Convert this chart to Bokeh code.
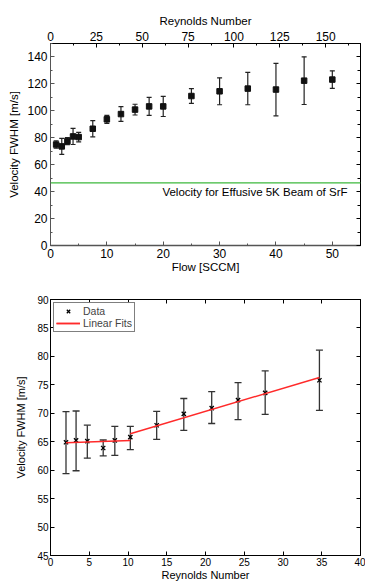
from bokeh.plotting import figure
from bokeh.models import (ColumnDataSource, Whisker, TeeHead, LinearAxis, Range1d,
                          SingleIntervalTicker, Span, Label, Legend, LegendItem,
                          CustomJSTickFormatter)
from bokeh.layouts import column
from bokeh.embed import file_html
from bokeh.resources import INLINE

FONT = "Liberation Sans"

# ---------------- data: top panel ----------------
flow = [1, 2, 3, 4, 5, 7.5, 10, 12.5, 15, 17.5, 20, 25, 30, 35, 40, 45, 50]
velocity = [75.0, 73.6, 77.5, 81.0, 80.5, 86.7, 93.7, 97.6, 100.9, 103.3, 103.3,
            111.0, 114.5, 116.5, 115.8, 122.4, 123.2]
velocity_err = [2.8, 6.0, 2.6, 6.0, 3.5, 6.0, 3.0, 5.5, 4.0, 6.7, 7.5,
                5.5, 10.0, 12.0, 19.5, 17.7, 6.5]
effusive_velocity = 46.5
effusive_text = "Velocity for Effusive 5K Beam of SrF"
reynolds_max_top = 169

# ---------------- data: bottom panel ----------------
reynolds = [2.0, 3.3, 4.75, 6.8, 8.3, 10.3, 13.7, 17.2, 20.8, 24.2, 27.7, 34.7]
fwhm = [64.9, 65.25, 65.1, 63.9, 65.25, 65.8, 67.9, 69.9, 70.9, 72.3, 73.6, 75.8]
fwhm_lo = [59.4, 59.9, 62.1, 62.5, 62.6, 63.6, 65.4, 67.0, 68.2, 68.9, 69.8, 70.5]
fwhm_hi = [70.3, 70.4, 67.9, 65.3, 67.7, 67.7, 70.35, 72.6, 73.8, 75.4, 77.45, 81.1]
fit1_x = [2.0, 10.3]
fit1_y = [64.8, 65.2]
fit2_x = [10.3, 34.7]
fit2_y = [66.4, 76.3]

BLANK = CustomJSTickFormatter(code="return '';")


def style_axis(ax, tick_size, label_size, line_color="black"):
    ax.axis_line_color = line_color
    ax.major_tick_line_color = line_color
    ax.minor_tick_line_color = line_color
    ax.major_tick_in = 4
    ax.major_tick_out = 0
    ax.minor_tick_in = 2
    ax.minor_tick_out = 0
    ax.major_label_text_font = FONT
    ax.major_label_text_font_size = tick_size
    ax.major_label_text_color = "black"
    ax.axis_label_text_font = FONT
    ax.axis_label_text_font_size = label_size
    ax.axis_label_text_font_style = "normal"
    ax.axis_label_text_color = "black"


# ================= top figure =================
p1 = figure(width=365, height=285, x_range=Range1d(0, 55), y_range=Range1d(0, 150),
            output_backend="svg", toolbar_location=None,
            min_border_left=50, min_border_right=5, min_border_top=43, min_border_bottom=40)
p1.xgrid.grid_line_color = None
p1.ygrid.grid_line_color = None
p1.outline_line_color = "black"
p1.extra_x_ranges = {"re": Range1d(0, reynolds_max_top)}

p1.xaxis[0].ticker = SingleIntervalTicker(interval=10, num_minor_ticks=2)
p1.xaxis[0].axis_label = "Flow [SCCM]"
p1.yaxis[0].ticker = SingleIntervalTicker(interval=20, num_minor_ticks=2)
p1.yaxis[0].axis_label = "Velocity FWHM [m/s]"
style_axis(p1.xaxis[0], "12px", "11.5px", "#555555")
style_axis(p1.yaxis[0], "12px", "11.5px", "#555555")
p1.xaxis[0].axis_line_width = 1.5
p1.xaxis[0].major_label_standoff = 3
p1.xaxis[0].axis_label_standoff = 0
p1.yaxis[0].major_label_standoff = 3
p1.yaxis[0].axis_label_standoff = 4

top_ax = LinearAxis(x_range_name="re", axis_label="Reynolds Number",
                    ticker=SingleIntervalTicker(interval=25, num_minor_ticks=2))
style_axis(top_ax, "12px", "11.5px")
top_ax.major_label_standoff = 3
top_ax.axis_label_standoff = 2
p1.add_layout(top_ax, "above")

right_ax = LinearAxis(ticker=SingleIntervalTicker(interval=20, num_minor_ticks=2),
                      formatter=BLANK)
style_axis(right_ax, "1px", "1px")
right_ax.major_label_standoff = 0
right_ax.minor_tick_in = 3
p1.add_layout(right_ax, "right")

src1 = ColumnDataSource(dict(
    x=flow, y=velocity,
    lo=[v - e for v, e in zip(velocity, velocity_err)],
    hi=[v + e for v, e in zip(velocity, velocity_err)],
))
p1.add_layout(Whisker(base="x", lower="lo", upper="hi", source=src1,
                      line_color="#222222", line_width=1.2,
                      lower_head=TeeHead(size=5, line_color="#222222", line_width=1.2),
                      upper_head=TeeHead(size=5, line_color="#222222", line_width=1.2)))
p1.scatter("x", "y", source=src1, marker="square", size=5.5, color="#111111")

p1.add_layout(Span(location=effusive_velocity, dimension="width",
                   line_color="#3cb83c", line_width=1.3))
p1.add_layout(Label(x=52.7, y=40, text=effusive_text, text_align="right",
                    text_baseline="middle", text_font=FONT, text_font_size="11.5px",
                    text_color="black"))

# ================= bottom figure =================
p2 = figure(width=365, height=298, x_range=Range1d(0, 40), y_range=Range1d(45, 90),
            output_backend="svg", toolbar_location=None,
            min_border_left=48, min_border_right=5, min_border_top=14, min_border_bottom=28)
p2.xgrid.grid_line_color = None
p2.ygrid.grid_line_color = None
p2.outline_line_color = "black"

p2.xaxis[0].ticker = SingleIntervalTicker(interval=5, num_minor_ticks=0)
p2.xaxis[0].axis_label = "Reynolds Number"
p2.yaxis[0].ticker = SingleIntervalTicker(interval=5, num_minor_ticks=0)
p2.yaxis[0].axis_label = "Velocity FWHM [m/s]"
style_axis(p2.xaxis[0], "10px", "11px")
style_axis(p2.yaxis[0], "10px", "11px")
for ax in (p2.xaxis[0], p2.yaxis[0]):
    ax.minor_tick_line_color = None
    ax.major_label_standoff = 2
p2.xaxis[0].axis_label_standoff = 0
p2.yaxis[0].axis_label_standoff = 7

for loc in ("right", "above"):
    a = LinearAxis(ticker=SingleIntervalTicker(interval=5, num_minor_ticks=0),
                   formatter=BLANK)
    style_axis(a, "1px", "1px")
    a.minor_tick_line_color = None
    a.major_label_standoff = 0
    p2.add_layout(a, loc)

src2 = ColumnDataSource(dict(x=reynolds, y=fwhm, lo=fwhm_lo, hi=fwhm_hi))
p2.add_layout(Whisker(base="x", lower="lo", upper="hi", source=src2,
                      line_color="#333333", line_width=1.3,
                      lower_head=TeeHead(size=7, line_color="#333333", line_width=1.3),
                      upper_head=TeeHead(size=7, line_color="#333333", line_width=1.3)))
r_data = p2.scatter("x", "y", source=src2, marker="x", size=6, color="black", line_width=1.3)
r_fit1 = p2.line(fit1_x, fit1_y, line_color="#ff2a2a", line_width=1.5)
r_fit2 = p2.line(fit2_x, fit2_y, line_color="#ff2a2a", line_width=1.5)

legend = Legend(items=[LegendItem(label="Data", renderers=[r_data]),
                       LegendItem(label="Linear Fits", renderers=[r_fit1, r_fit2])],
                location="top_left")
legend.margin = 3
legend.padding = 2
legend.spacing = 0
legend.glyph_width = 24
legend.glyph_height = 12
legend.label_height = 12
legend.label_standoff = 3
legend.label_text_font = FONT
legend.label_text_font_size = "10.5px"
legend.border_line_color = "black"
legend.border_line_width = 1
p2.add_layout(legend)

layout = column(p1, p2, spacing=0)
open("out.html", "w").write(file_html(layout, INLINE))
